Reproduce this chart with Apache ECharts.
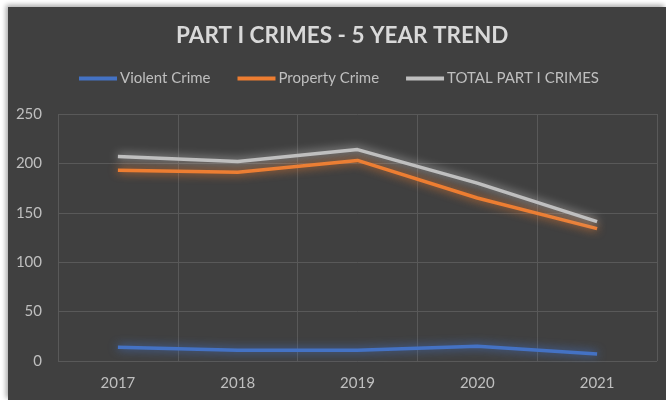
<!DOCTYPE html>
<html>
<head>
<meta charset="utf-8">
<script src="https://cdn.jsdelivr.net/npm/echarts@6/dist/echarts.min.js"></script>
<style>
  html, body { margin: 0; padding: 0; background: #ffffff; }
  #wrap { position: absolute; left: 0; top: 0; width: 666px; height: 400px; background: #ffffff; overflow: hidden; }
  #chart { position: absolute; left: 8px; top: 7px; width: 658px; height: 393px;
           background: #404040; box-shadow: -2px -2px 5px rgba(0,0,0,0.35); }
</style>
</head>
<body>
<div id="wrap"><div id="chart"></div></div>
<script>
// Yearly counts of Part I crimes
const years = ['2017', '2018', '2019', '2020', '2021'];
const violentCrime = [14, 11, 11, 15, 7];
const propertyCrime = [193, 191, 203, 165, 134];
const totalPartI = [207, 202, 214, 180, 141];
const seriesNames = ['Violent Crime', 'Property Crime', 'TOTAL PART I CRIMES'];
const yTicks = { min: 0, max: 250, interval: 50 };

const FONT = 'Lato, "Open Sans", sans-serif';
const colors = ['#4472c4', '#ed7d31', '#bfbfbf'];

const chart = echarts.init(document.getElementById('chart'), null, { renderer: 'canvas' });

function lineSeries(name, data, color) {
  return {
    name: name,
    type: 'line',
    data: data,
    symbol: 'none',
    smooth: false,
    lineStyle: { color: color, width: 3.5, shadowBlur: 10, shadowColor: color },
    itemStyle: { color: color },
    emphasis: { disabled: true }
  };
}

chart.setOption({
  backgroundColor: '#404040',
  animation: false,
  title: {
    text: 'PART I CRIMES - 5 YEAR TREND',
    left: 163,
    top: 12,
    textStyle: { color: '#d9d9d9', fontFamily: FONT, fontWeight: 'bold', fontSize: 22.5 }
  },
  legend: {
    data: seriesNames,
    top: 59,
    left: 66,
    icon: 'rect',
    itemWidth: 38,
    itemHeight: 4,
    itemGap: 27,
    textStyle: { color: '#bfbfbf', fontFamily: FONT, fontSize: 15, padding: [0, 0, 0, -2] }
  },
  grid: { left: 50, right: 9, top: 107, bottom: 39 },
  xAxis: {
    type: 'category',
    data: years,
    boundaryGap: true,
    axisLine: { show: false },
    axisTick: { show: false },
    axisLabel: { color: '#bfbfbf', fontFamily: FONT, fontSize: 15, margin: 15 },
    splitLine: { show: true, lineStyle: { color: '#595959', width: 1 } }
  },
  yAxis: {
    type: 'value',
    min: yTicks.min,
    max: yTicks.max,
    interval: yTicks.interval,
    axisLine: { show: false },
    axisTick: { show: false },
    axisLabel: { color: '#bfbfbf', fontFamily: FONT, fontSize: 15, margin: 16 },
    splitLine: { show: true, lineStyle: { color: '#595959', width: 1 } }
  },
  series: [
    lineSeries(seriesNames[0], violentCrime, colors[0]),
    lineSeries(seriesNames[1], propertyCrime, colors[1]),
    lineSeries(seriesNames[2], totalPartI, colors[2])
  ]
});
</script>
</body>
</html>
